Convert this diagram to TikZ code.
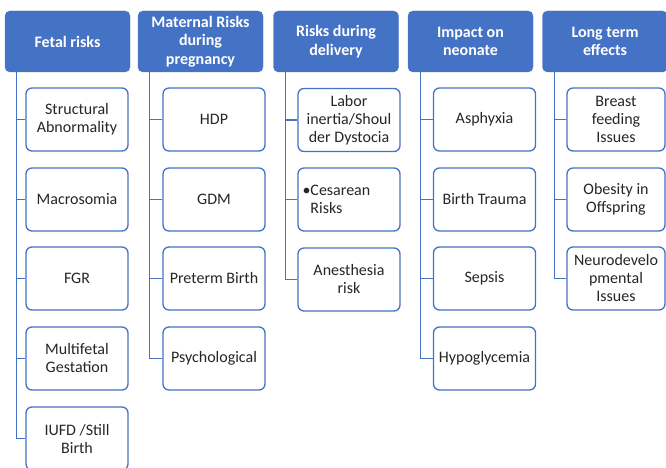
\documentclass[tikz,border=0pt]{standalone}
\usepackage{fontspec}
\setmainfont{Carlito}
\definecolor{hdrblue}{HTML}{4472C4}
\definecolor{itemtext}{HTML}{262626}
\tikzset{
  hdr/.style={draw=hdrblue, fill=hdrblue, rounded corners=5pt,
    minimum width=125pt, minimum height=61pt, inner sep=1pt,
    text=white, font=\bfseries\fontsize{16}{18.5}\selectfont, align=center},
  item/.style={draw=hdrblue, fill=white, rounded corners=6pt, line width=1.3pt,
    minimum width=102pt, minimum height=63pt, inner sep=1pt,
    text=itemtext, font=\fontsize{16}{18}\selectfont, align=center},
  link/.style={draw=hdrblue, line width=1.3pt}
}
\begin{document}
\begin{tikzpicture}[x=1pt,y=-1pt]
\useasboundingbox (0,0) rectangle (666,468);

% column headers
\node[hdr] (h1) at (67.5,41.5) {Fetal risks};
\node[hdr] (h2) at (200.5,41.5) {Maternal Risks\\during\\pregnancy};
\node[hdr] (h3) at (336,41.5) {Risks during\\delivery};
\node[hdr] (h4) at (470.5,41.5) {Impact on\\neonate};
\node[hdr] (h5) at (605,41.5) {Long term\\effects};

% fetal risks
\node[item] (f1) at (77,119.5) {Structural\\Abnormality};
\node[item] (f2) at (77,199.5) {Macrosomia};
\node[item] (f3) at (77,278.5) {FGR};
\node[item] (f4) at (77,358.5) {Multifetal\\Gestation};
\node[item] (f5) at (77,438.5) {IUFD /Still\\Birth};

% maternal risks
\node[item] (m1) at (214,119.5) {HDP};
\node[item] (m2) at (214,199.5) {GDM};
\node[item] (m3) at (214,278.5) {Preterm Birth};
\node[item] (m4) at (214,358.5) {Psychological};

% delivery risks
\node[item] (d1) at (349,120) {Labor\\inertia/Shoul\\der Dystocia};
\node[item, align=left, text width=93pt] (d2) at (349,199.5) {•Cesarean\\\hphantom{•}Risks};
\node[item] (d3) at (349,279.5) {Anesthesia\\risk};

% neonatal impact
\node[item] (n1) at (484.5,119.5) {Asphyxia};
\node[item] (n2) at (484.5,199.5) {Birth Trauma};
\node[item] (n3) at (484.5,278.5) {Sepsis};
\node[item] (n4) at (484.5,358.5) {Hypoglycemia};

% long term effects
\node[item, minimum width=98pt] (l1) at (616,119.5) {Breast\\feeding\\Issues};
\node[item, minimum width=98pt] (l2) at (616,199.5) {Obesity in\\Offspring};
\node[item, minimum width=98pt] (l3) at (616,278.5) {Neurodevelo\\pmental\\Issues};

% connectors: trunk from each header down to its items
\foreach \c in {f1,f2,f3,f4,f5} \draw[link] ([xshift=12pt]h1.south west) |- (\c.west);
\foreach \c in {m1,m2,m3,m4} \draw[link] ([xshift=12pt]h2.south west) |- (\c.west);
\foreach \c in {d1,d2,d3} \draw[link] ([xshift=12pt]h3.south west) |- (\c.west);
\foreach \c in {n1,n2,n3,n4} \draw[link] ([xshift=12.5pt]h4.south west) |- (\c.west);
\foreach \c in {l1,l2,l3} \draw[link] ([xshift=12pt]h5.south west) |- (\c.west);
\end{tikzpicture}
\end{document}
